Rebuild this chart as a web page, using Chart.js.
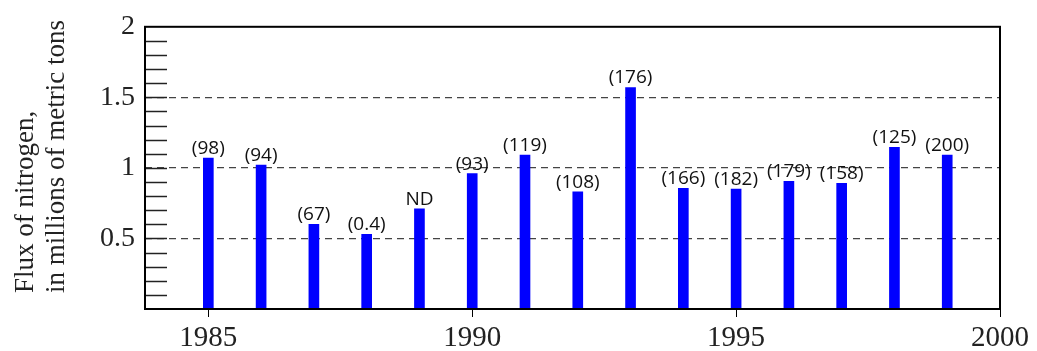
<!DOCTYPE html>
<html>
<head>
<meta charset="utf-8">
<script src="https://cdn.jsdelivr.net/npm/chart.js@4"></script>
<style>
  html, body { margin: 0; padding: 0; background: #fff; }
  canvas { display: block; }
</style>
</head>
<body>
<canvas id="myChart" width="1037" height="351"></canvas>
<script>
// data
const years = [1985, 1986, 1987, 1988, 1989, 1990, 1991, 1992, 1993, 1994, 1995, 1996, 1997, 1998, 1999];
const flux = [1.07, 1.02, 0.60, 0.53, 0.71, 0.96, 1.09, 0.83, 1.57, 0.855, 0.85, 0.905, 0.89, 1.145, 1.09];
const barLabels = ['(98)', '(94)', '(67)', '(0.4)', 'ND', '(93)', '(119)', '(108)', '(176)', '(166)', '(182)', '(179)', '(158)', '(125)', '(200)'];
const xTicks = [1985, 1990, 1995, 2000];
const yTicks = [0.5, 1, 1.5, 2];
const yTitle = ['Flux of nitrogen,', 'in millions of metric tons'];

const serif = '"Liberation Serif", "DejaVu Serif", serif';

// frame, minor ticks, axis title, values above bars
const extras = {
    id: 'extras',
    afterDatasetsDraw(chart) {
        const c = chart.ctx;
        const a = chart.chartArea;
        const y = chart.scales.y;

        c.save();
        // minor ticks every 0.1 inside the left edge
        c.strokeStyle = '#222';
        c.lineWidth = 1.5;
        for (let i = 1; i < 20; i++) {
            const py = Math.round(y.getPixelForValue(i / 10)) + 0.5;
            c.beginPath();
            c.moveTo(a.left, py);
            c.lineTo(a.left + 22, py);
            c.stroke();
        }
        // frame
        c.lineWidth = 2;
        c.strokeStyle = '#000';
        c.strokeRect(a.left, a.top, a.right - a.left, a.bottom - a.top);

        // labels above bars
        c.fillStyle = '#111';
        c.font = '19px "Open Sans", "Noto Sans", sans-serif';
        c.textAlign = 'center';
        c.textBaseline = 'alphabetic';
        chart.getDatasetMeta(0).data.forEach((bar, i) => {
            c.fillText(barLabels[i], bar.x, bar.y - 4);
        });

        // rotated two-line y title
        c.font = '27px ' + serif;
        c.fillStyle = '#222';
        c.textAlign = 'left';
        c.textBaseline = 'middle';
        c.translate(0, 293);
        c.rotate(-Math.PI / 2);
        c.fillText(yTitle[0], 0, 26);
        c.fillText(yTitle[1], 0, 57);
        c.restore();
    }
};

const ctx = document.getElementById('myChart');

new Chart(ctx, {
    type: 'bar',
    data: {
        datasets: [{
            data: years.map((yr, i) => ({ x: yr, y: flux[i] })),
            backgroundColor: '#0000ff',
            borderWidth: 0,
            barThickness: 10
        }]
    },
    options: {
        responsive: false,
        animation: false,
        layout: { padding: { top: 19, right: 37, left: 0, bottom: 0 } },
        plugins: {
            legend: { display: false },
            tooltip: { enabled: false }
        },
        scales: {
            x: {
                type: 'linear',
                offset: false,
                min: 1983.8,
                max: 2000,
                afterBuildTicks: (scale) => { scale.ticks = xTicks.map(v => ({ value: v })); },
                afterFit: (scale) => { scale.height = 42; },
                grid: {
                    offset: false,
                    drawOnChartArea: false,
                    drawTicks: true,
                    tickLength: 8,
                    tickColor: '#000',
                    tickWidth: 1
                },
                border: { display: false },
                ticks: {
                    color: '#222',
                    font: { family: serif, size: 29 },
                    padding: 4,
                    maxRotation: 0,
                    callback: (v) => String(v)
                }
            },
            y: {
                min: 0,
                max: 2,
                afterBuildTicks: (scale) => { scale.ticks = [0].concat(yTicks).map(v => ({ value: v })); },
                afterFit: (scale) => { scale.width = 145; },
                grid: {
                    drawTicks: false,
                    color: (c) => (c.tick && c.tick.value > 0 && c.tick.value < 2) ? '#444' : 'rgba(0,0,0,0)',
                    lineWidth: 1.2
                },
                border: { display: false, dash: [7, 5] },
                ticks: {
                    color: '#222',
                    font: { family: serif, size: 28 },
                    padding: 10,
                    callback: (v) => v === 0 ? '' : String(v)
                }
            }
        }
    },
    plugins: [extras]
});
</script>
</body>
</html>
